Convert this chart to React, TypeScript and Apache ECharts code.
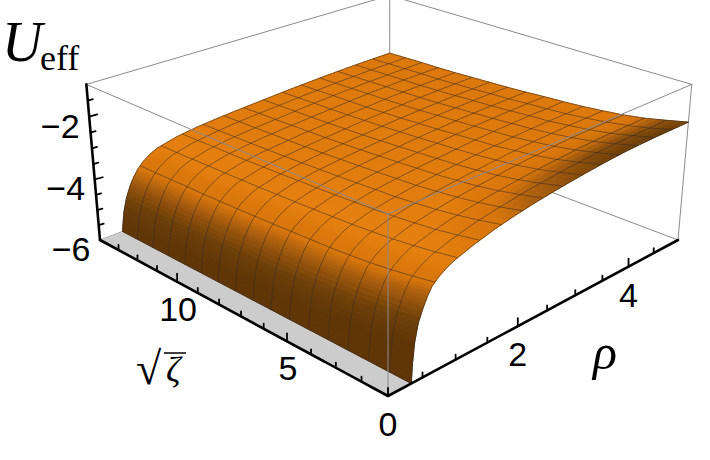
import React, { useEffect, useRef } from "react";
import * as echarts from "echarts";

const rhoValues = [0.335, 0.35, 0.38, 0.43, 0.5, 0.56, 0.625, 0.72, 0.82, 0.9375, 1.25, 1.5625, 1.875, 2.1875, 2.5, 2.8125, 3.125, 3.4375, 3.75, 4.0625, 4.375, 4.6875, 5];
const zetaValues = [1, 1.8125, 2.625, 3.4375, 4.25, 5.0625, 5.875, 6.6875, 7.5, 8.3125, 9.125, 9.9375, 10.75, 11.5625, 12.375, 13.1875, 14];
const uValues = [
  [-6, -5.45, -4.85, -4.35, -3.98, -3.72, -3.5, -3.33, -3.2, -3.08, -2.88, -2.72, -2.6, -2.5, -2.42, -2.35, -2.29, -2.24, -2.2, -2.18, -2.17, -2.17, -2.17],
  [-6, -5.5, -4.94, -4.46, -4.09, -3.83, -3.62, -3.44, -3.31, -3.19, -3.0, -2.85, -2.74, -2.65, -2.57, -2.51, -2.45, -2.41, -2.37, -2.35, -2.34, -2.34, -2.33],
  [-6, -5.55, -5.02, -4.55, -4.18, -3.93, -3.72, -3.54, -3.4, -3.28, -3.1, -2.96, -2.86, -2.78, -2.71, -2.65, -2.6, -2.56, -2.52, -2.5, -2.49, -2.48, -2.48],
  [-6, -5.59, -5.08, -4.63, -4.26, -4.01, -3.8, -3.62, -3.48, -3.36, -3.17, -3.05, -2.95, -2.88, -2.82, -2.76, -2.71, -2.67, -2.63, -2.61, -2.6, -2.59, -2.59],
  [-6, -5.62, -5.13, -4.68, -4.31, -4.07, -3.86, -3.67, -3.53, -3.41, -3.23, -3.11, -3.02, -2.95, -2.89, -2.84, -2.79, -2.75, -2.72, -2.7, -2.68, -2.68, -2.67],
  [-6, -5.64, -5.17, -4.73, -4.36, -4.12, -3.91, -3.72, -3.58, -3.46, -3.28, -3.17, -3.09, -3.02, -2.96, -2.91, -2.86, -2.83, -2.79, -2.77, -2.76, -2.75, -2.74],
  [-6, -5.65, -5.19, -4.76, -4.39, -4.15, -3.94, -3.75, -3.61, -3.49, -3.32, -3.2, -3.12, -3.06, -3.0, -2.96, -2.91, -2.87, -2.84, -2.82, -2.8, -2.8, -2.79],
  [-6, -5.67, -5.22, -4.79, -4.42, -4.18, -3.97, -3.78, -3.64, -3.52, -3.35, -3.24, -3.16, -3.1, -3.05, -3.0, -2.95, -2.92, -2.89, -2.87, -2.85, -2.84, -2.83],
  [-6, -5.68, -5.24, -4.82, -4.45, -4.21, -4.01, -3.81, -3.67, -3.55, -3.38, -3.27, -3.2, -3.14, -3.09, -3.04, -3.0, -2.97, -2.93, -2.91, -2.9, -2.89, -2.88],
  [-6, -5.7, -5.26, -4.84, -4.47, -4.24, -4.03, -3.84, -3.69, -3.57, -3.4, -3.3, -3.23, -3.17, -3.13, -3.08, -3.04, -3.0, -2.97, -2.95, -2.93, -2.92, -2.92],
  [-6, -5.71, -5.28, -4.87, -4.5, -4.26, -4.06, -3.86, -3.72, -3.6, -3.43, -3.33, -3.26, -3.21, -3.16, -3.12, -3.07, -3.04, -3.01, -2.99, -2.97, -2.96, -2.95],
  [-6, -5.72, -5.3, -4.88, -4.51, -4.28, -4.08, -3.88, -3.73, -3.61, -3.45, -3.35, -3.29, -3.23, -3.19, -3.14, -3.1, -3.07, -3.04, -3.02, -3.0, -2.99, -2.98],
  [-6, -5.73, -5.31, -4.9, -4.53, -4.3, -4.1, -3.9, -3.75, -3.63, -3.47, -3.37, -3.31, -3.25, -3.21, -3.17, -3.13, -3.1, -3.06, -3.04, -3.03, -3.02, -3.01],
  [-6, -5.73, -5.32, -4.91, -4.54, -4.31, -4.11, -3.91, -3.76, -3.64, -3.48, -3.39, -3.32, -3.27, -3.23, -3.19, -3.15, -3.11, -3.08, -3.06, -3.04, -3.03, -3.03],
  [-6, -5.74, -5.33, -4.93, -4.56, -4.32, -4.12, -3.93, -3.78, -3.66, -3.49, -3.4, -3.34, -3.29, -3.25, -3.2, -3.16, -3.13, -3.1, -3.08, -3.06, -3.05, -3.04],
  [-6, -5.74, -5.34, -4.94, -4.57, -4.34, -4.14, -3.94, -3.79, -3.67, -3.51, -3.42, -3.35, -3.3, -3.26, -3.22, -3.18, -3.15, -3.12, -3.1, -3.08, -3.07, -3.06],
  [-6, -5.75, -5.35, -4.95, -4.58, -4.35, -4.15, -3.95, -3.8, -3.68, -3.52, -3.43, -3.37, -3.32, -3.28, -3.24, -3.2, -3.17, -3.14, -3.12, -3.1, -3.09, -3.08],
];
const rhoMeshLines = [0.335, 0.6667, 1, 1.3333, 1.6667, 2, 2.3333, 2.6667, 3, 3.3333, 3.6667, 4, 4.3333, 4.6667, 5];
const rhoTicks = [0.5, 1, 1.5, 2, 2.5, 3, 3.5, 4, 4.5];
const rhoLabels = [0, 2, 4];
const zetaTicks = [2, 3, 4, 5, 6, 7, 8, 9, 10, 11, 12, 13];
const zetaLabels = [5, 10];
const uTicks = [-5.5, -5, -4.5, -4, -3.5, -3, -2.5, -2, -1.5];
const uLabels = [-2, -4, -6];

const RHO = [0, 5];
const ZETA = [1, 14];
const U = [-6, -1];

// Box projection: near-floor corner, three adjacent corners, homogeneous weights.
const O = [388, 396];
const A = [678, 240];
const B = [100, 240];
const C = [388, 214];
const wA = 1.2156;
const wB = 1.2156;
const wC = 0.945;

function project(rho: number, zeta: number, u: number) {
  const r = (rho - RHO[0]) / (RHO[1] - RHO[0]);
  const s = (zeta - ZETA[0]) / (ZETA[1] - ZETA[0]);
  const f = (u - U[0]) / (U[1] - U[0]);
  const d = 1 + r * (wA - 1) + s * (wB - 1) + f * (wC - 1);
  return [0, 1].map(
    (k) =>
      (O[k] + r * (wA * A[k] - O[k]) + s * (wB * B[k] - O[k]) + f * (wC * C[k] - O[k])) / d
  );
}

// shading
const L = { x: -0.25, u: 0.85 };
const HEIGHT_SCALE = 0.45;
const RIM_THRESHOLD = 0.16;
const RIM_STRENGTH = 4.5;
const RAMP: [number, number[]][] = [
  [0.38, [0x60, 0x36, 0x07]],
  [0.5, [0x70, 0x40, 0x09]],
  [0.64, [0xa8, 0x5d, 0x0e]],
  [0.76, [0xd6, 0x75, 0x0c]],
  [0.85, [0xdc, 0x78, 0x0c]],
  [0.9, [0xe9, 0x82, 0x10]],
];
function rampColor(v: number) {
  if (v <= RAMP[0][0]) return RAMP[0][1];
  for (let i = 1; i < RAMP.length; i++) {
    if (v <= RAMP[i][0]) {
      const q = (v - RAMP[i - 1][0]) / (RAMP[i][0] - RAMP[i - 1][0]);
      return RAMP[i][1].map((c, k) => c + (RAMP[i - 1][1][k] - c) * (1 - q));
    }
  }
  return RAMP[RAMP.length - 1][1];
}
function shade(j: number, i: number) {
  const i0 = Math.max(0, i - 1);
  const i1 = Math.min(rhoValues.length - 1, i + 1);
  const j0 = Math.max(0, j - 1);
  const j1 = Math.min(zetaValues.length - 1, j + 1);
  const fr =
    (HEIGHT_SCALE * ((uValues[j][i1] - uValues[j][i0]) / (U[1] - U[0]))) /
    ((rhoValues[i1] - rhoValues[i0]) / (RHO[1] - RHO[0]));
  const fz =
    (HEIGHT_SCALE * ((uValues[j1][i] - uValues[j0][i]) / (U[1] - U[0]))) /
    ((zetaValues[j1] - zetaValues[j0]) / (ZETA[1] - ZETA[0]));
  const rim =
    Math.max(0, Math.abs(fz) - RIM_THRESHOLD) * RIM_STRENGTH * Math.min(1, rhoValues[i] / 2);
  return (-fr * L.x + L.u) / Math.sqrt(1 + fr * fr) - rim;
}
const rawShade = zetaValues.map((_, j) => rhoValues.map((_, i) => shade(j, i)));
const shadeGrid = rawShade.map((row, j) =>
  row.map((v, i) => {
    const l = row[Math.max(0, i - 1)];
    const r = row[Math.min(row.length - 1, i + 1)];
    const u = rawShade[Math.max(0, j - 1)][i];
    const d = rawShade[Math.min(rawShade.length - 1, j + 1)][i];
    return (4 * v + l + r + u + d) / 8;
  })
);

const SUB = 3;
const cellData: number[][] = [];
for (let j = zetaValues.length - 2; j >= 0; j--) {
  for (let i = rhoValues.length - 2; i >= 0; i--) {
    for (let a = SUB - 1; a >= 0; a--) {
      for (let b = SUB - 1; b >= 0; b--) cellData.push([j, i, a, b]);
    }
  }
}

function bil(v00: number, v01: number, v10: number, v11: number, p: number, q: number) {
  return (v00 * (1 - q) + v01 * q) * (1 - p) + (v10 * (1 - q) + v11 * q) * p;
}
function surfacePoint(j: number, i: number, p: number, q: number) {
  return project(
    rhoValues[i] + (rhoValues[i + 1] - rhoValues[i]) * q,
    zetaValues[j] + (zetaValues[j + 1] - zetaValues[j]) * p,
    bil(uValues[j][i], uValues[j][i + 1], uValues[j + 1][i], uValues[j + 1][i + 1], p, q)
  );
}
function surfaceAtRho(j: number, rho: number) {
  let i = 0;
  while (i < rhoValues.length - 2 && rhoValues[i + 1] < rho) i++;
  const q = (rho - rhoValues[i]) / (rhoValues[i + 1] - rhoValues[i]);
  return uValues[j][i] + (uValues[j][i + 1] - uValues[j][i]) * q;
}

const EDGE = "#8a8a8a";
const AXIS_W = 2.6;

function App() {
  const ref = useRef<HTMLDivElement>(null);
  useEffect(() => {
    document.body.style.margin = "0";
    const chart = echarts.init(ref.current!, null, { renderer: "svg" });

    const toPx = (api: any, pt: number[]) => api.coord(pt);
    const seg = (api: any, a: number[], b: number[], color: string, width: number) => {
      const p = toPx(api, a);
      const q = toPx(api, b);
      return {
        type: "line",
        shape: { x1: p[0], y1: p[1], x2: q[0], y2: q[1] },
        style: { stroke: color, lineWidth: width, lineCap: "round" },
      };
    };
    const boxLine = (from: number[], to: number[]) => [...from, ...to];
    const r0 = RHO[0], r1 = RHO[1], z0 = ZETA[0], z1 = ZETA[1], u0 = U[0], u1 = U[1];
    const backEdges = [
      boxLine([r1, z1, u1], [r0, z1, u1]),
      boxLine([r1, z1, u1], [r1, z0, u1]),
      boxLine([r1, z1, u1], [r1, z1, u0]),
      boxLine([r1, z1, u0], [r0, z1, u0]),
      boxLine([r1, z1, u0], [r1, z0, u0]),
      boxLine([r1, z0, u0], [r1, z0, u1]),
    ];
    const frontEdges = [
      boxLine([r0, z0, u1], [r0, z1, u1]),
      boxLine([r0, z0, u1], [r1, z0, u1]),
      boxLine([r0, z0, u1], [r0, z0, u0]),
    ];
    const edgeSeries = (name: string, data: number[][], z: number) => ({
      type: "custom",
      name,
      coordinateSystem: "cartesian2d",
      silent: true,
      clip: false,
      z,
      data,
      renderItem: (_: any, api: any) => {
        const a = project(api.value(0), api.value(1), api.value(2));
        const b = project(api.value(3), api.value(4), api.value(5));
        return seg(api, a, b, EDGE, 1);
      },
    });

    const option: any = {
      animation: false,
      backgroundColor: "#ffffff",
      grid: { left: 0, top: 0, width: 710, height: 460 },
      xAxis: { type: "value", min: 0, max: 710, show: false },
      yAxis: { type: "value", min: 0, max: 460, inverse: true, show: false },
      series: [
        edgeSeries("box back", backEdges, 1),
        {
          type: "custom",
          name: "clipped floor",
          coordinateSystem: "cartesian2d",
          silent: true,
          clip: false,
          z: 2,
          data: [[rhoValues[0]]],
          renderItem: (_: any, api: any) => ({
            type: "polygon",
            shape: {
              points: [
                project(r0, z0, u0),
                project(api.value(0) + 0.01, z0, u0),
                project(api.value(0) - 0.01, z1, u0),
                project(r0, z1, u0),
              ].map((p) => toPx(api, p)),
            },
            style: { fill: "#cccccc" },
          }),
        },
        {
          type: "custom",
          name: "surface",
          coordinateSystem: "cartesian2d",
          silent: true,
          clip: false,
          z: 3,
          data: cellData,
          renderItem: (_: any, api: any) => {
            const j = api.value(0), i = api.value(1), a = api.value(2), b = api.value(3);
            const p0 = a / SUB, p1 = (a + 1) / SUB, q0 = b / SUB, q1 = (b + 1) / SUB;
            const pts = [
              surfacePoint(j, i, p0, q0),
              surfacePoint(j, i, p0, q1),
              surfacePoint(j, i, p1, q1),
              surfacePoint(j, i, p1, q0),
            ].map((p) => toPx(api, p));
            const s = bil(
              shadeGrid[j][i], shadeGrid[j][i + 1], shadeGrid[j + 1][i], shadeGrid[j + 1][i + 1],
              (p0 + p1) / 2, (q0 + q1) / 2
            );
            const c = rampColor(s).map((v) => Math.round(v));
            const col = `rgb(${c[0]},${c[1]},${c[2]})`;
            return {
              type: "polygon",
              shape: { points: pts },
              style: { fill: col, stroke: col, lineWidth: 1 },
            };
          },
        },
        {
          type: "custom",
          name: "mesh",
          coordinateSystem: "cartesian2d",
          silent: true,
          clip: false,
          z: 4,
          data: [
            ...zetaValues.map((_, j) => [0, j]),
            ...rhoMeshLines.map((r) => [1, r]),
          ],
          renderItem: (_: any, api: any) => {
            const kind = api.value(0), key = api.value(1);
            const pts =
              kind === 0
                ? rhoValues.map((r, i) => project(r, zetaValues[key], uValues[key][i]))
                : zetaValues.map((z, j) => project(key, z, surfaceAtRho(j, key)));
            return {
              type: "polyline",
              shape: { points: pts.map((p) => toPx(api, p)) },
              style: { fill: "none", stroke: "rgba(50,42,40,0.62)", lineWidth: 0.85 },
            };
          },
        },
        edgeSeries("box front", frontEdges, 5),
        {
          type: "custom",
          name: "axes",
          coordinateSystem: "cartesian2d",
          silent: true,
          clip: false,
          z: 6,
          data: [[0]],
          renderItem: (_: any, api: any) => {
            const children: any[] = [];
            children.push(seg(api, project(r0, z0, u0), project(r1, z0, u0), "#000", AXIS_W));
            children.push(seg(api, project(r0, z0, u0), project(r0, z1, u0), "#000", AXIS_W));
            children.push(seg(api, project(r0, z1, u0), project(r0, z1, u1), "#000", AXIS_W));
            const tickUp = (p: number[], len: number) =>
              seg(api, p, [p[0], p[1] - len], "#000", 1.8);
            rhoTicks.forEach((r) =>
              children.push(tickUp(project(r, z0, u0), rhoLabels.includes(r) ? 8 : 5))
            );
            rhoLabels.forEach((r) => r === 0 && children.push(tickUp(project(r, z0, u0), 8)));
            zetaTicks.forEach((z) =>
              children.push(tickUp(project(r0, z, u0), zetaLabels.includes(z) ? 8 : 5))
            );
            uTicks.forEach((u) => {
              const p = project(r0, z1, u);
              const len = uLabels.includes(u) ? 8 : 5;
              children.push(seg(api, p, [p[0] + len, p[1] - len * 0.28], "#000", 1.8));
            });
            return { type: "group", children };
          },
        },
        {
          type: "custom",
          name: "tick labels",
          coordinateSystem: "cartesian2d",
          silent: true,
          clip: false,
          z: 7,
          data: [
            ...rhoLabels.map((v) => [0, v]),
            ...zetaLabels.map((v) => [1, v]),
            ...uLabels.map((v) => [2, v]),
          ],
          renderItem: (_: any, api: any) => {
            const kind = api.value(0), v = api.value(1);
            const p =
              kind === 0 ? project(v, z0, u0) : kind === 1 ? project(r0, v, u0) : project(r0, z1, v);
            const off = kind === 0 ? [0, 28] : kind === 1 ? [1, 27] : [-29, 9];
            const c = toPx(api, [p[0] + off[0], p[1] + off[1]]);
            return {
              type: "text",
              x: c[0],
              y: c[1],
              style: {
                text: kind === 2 ? "\u2212" + Math.abs(v) : String(v),
                font: '34px "Liberation Sans", Arial, sans-serif',
                fill: "#000",
                textAlign: "center",
                textVerticalAlign: "middle",
              },
            };
          },
        },
      ],
      graphic: [
        {
          type: "text", x: 2, y: 14, z: 10,
          style: { text: "U", font: 'italic 56px "Liberation Serif", serif', fill: "#000" },
        },
        {
          type: "text", x: 40, y: 40, z: 10,
          style: { text: "eff", font: '36px "Liberation Serif", serif', fill: "#000" },
        },
        {
          type: "text", x: 593, y: 327, z: 10,
          style: { text: "\u03c1", font: 'italic 50px "Liberation Serif", serif', fill: "#000" },
        },
        {
          type: "text", x: 136, y: 345, z: 10,
          style: { text: "\u221a", font: '46px "Liberation Serif", serif', fill: "#000" },
        },
        {
          type: "text", x: 166, y: 352, z: 10,
          style: { text: "\u03b6", font: 'italic 36px "Liberation Serif", serif', fill: "#000" },
        },
        {
          type: "line", z: 10,
          shape: { x1: 164, y1: 353, x2: 186, y2: 353 },
          style: { stroke: "#000", lineWidth: 1.5 },
        },
      ],
    };
    chart.setOption(option);
    return () => chart.dispose();
  }, []);
  return <div ref={ref} style={{ width: 710, height: 460 }} />;
}

export default App;
